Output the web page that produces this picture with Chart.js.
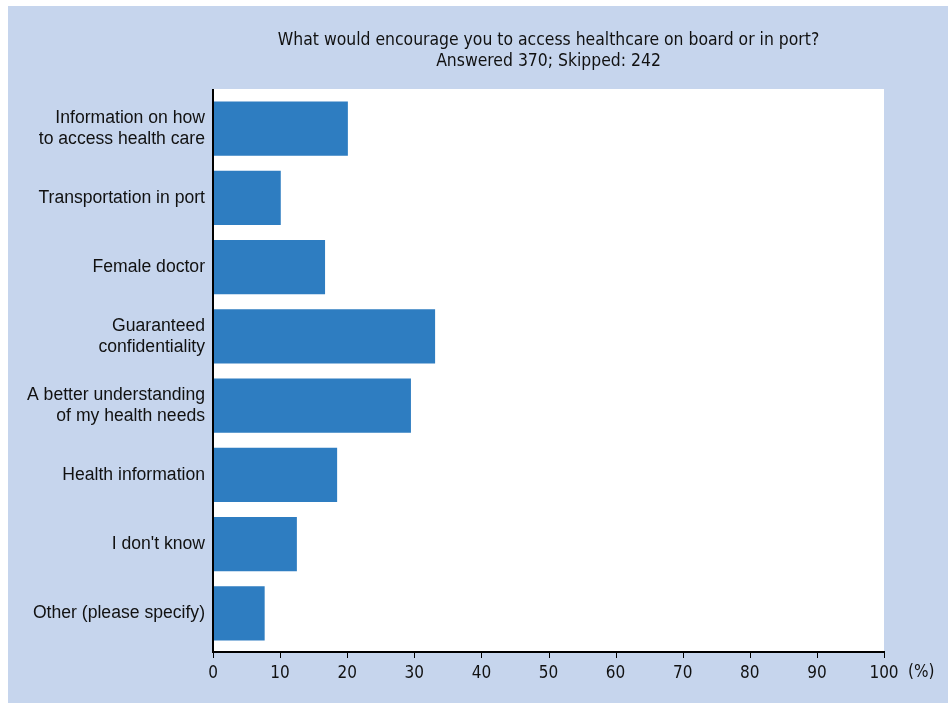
<!DOCTYPE html>
<html>
<head>
<title>Healthcare access</title>
<script src="https://cdn.jsdelivr.net/npm/chart.js@4"></script>
<style>
  body { margin: 0; background: #ffffff; }
  #wrap { position: absolute; left: 8px; top: 6px; width: 940px; height: 697px; background: #c6d5ed; }
</style>
</head>
<body>
<div id="wrap"><canvas id="myChart" width="940" height="697"></canvas></div>
<script>
// survey answers, % of respondents
const categories = [
  ["Information on how", "to access health care"],
  "Transportation in port",
  "Female doctor",
  ["Guaranteed", "confidentiality"],
  ["A better understanding", "of my health needs"],
  "Health information",
  "I don't know",
  "Other (please specify)"
];
const percentages = [20.1, 10.1, 16.7, 33.1, 29.5, 18.5, 12.5, 7.7];
const xTicks = [0, 10, 20, 30, 40, 50, 60, 70, 80, 90, 100];
const titleLines = ["What would encourage you to access healthcare on board or in port?", "Answered 370; Skipped: 242"];

const narrow = "'Liberation Sans Narrow', 'Arial Narrow', 'DejaVu Sans Condensed', sans-serif";

// the white plot box is a bit taller than the category bands
const boxTop = 5, boxBottom = 3;

const decor = {
  id: 'decor',
  beforeDraw(chart) {
    const c = chart.ctx, a = chart.chartArea;
    c.save();
    c.fillStyle = '#ffffff';
    c.fillRect(a.left, a.top - boxTop, a.right - a.left, a.bottom - a.top + boxTop + boxBottom);
    c.restore();
  },
  afterDraw(chart) {
    const c = chart.ctx, a = chart.chartArea, xs = chart.scales.x;
    const yb = a.bottom + boxBottom;
    c.save();
    // axes
    c.strokeStyle = '#000000';
    c.lineWidth = 2;
    c.beginPath();
    c.moveTo(a.left, a.top - boxTop);
    c.lineTo(a.left, yb + 1);
    c.lineTo(a.right, yb + 1);
    c.stroke();
    c.lineWidth = 1;
    c.beginPath();
    xTicks.forEach(v => {
      const px = Math.round(xs.getPixelForValue(v)) + 0.5;
      c.moveTo(px, yb);
      c.lineTo(px, yb + 7);
    });
    c.stroke();
    // title
    c.fillStyle = '#111111';
    c.font = "17.4px " + narrow;
    c.textAlign = 'center';
    c.textBaseline = 'middle';
    const cx = (a.left + a.right) / 2;
    c.fillText(titleLines[0], cx, 34);
    c.fillText(titleLines[1], cx, 55);
    c.font = "17px " + narrow;
    c.textAlign = 'left';
    c.fillText("(%)", a.right + 24, 667);
    c.restore();
  }
};

new Chart("myChart", {
  type: "bar",
  data: {
    labels: categories,
    datasets: [{
      data: percentages,
      backgroundColor: "#2e7dc1",
      categoryPercentage: 1.0,
      barPercentage: 0.78
    }]
  },
  options: {
    indexAxis: 'y',
    responsive: false,
    animation: false,
    layout: { padding: { top: 88, right: 64, left: 0, bottom: 0 } },
    plugins: { legend: { display: false }, tooltip: { enabled: false } },
    scales: {
      x: {
        min: 0, max: 100,
        afterBuildTicks(scale) { scale.ticks = xTicks.map(v => ({ value: v })); },
        ticks: { color: '#111111', font: { size: 17, family: narrow }, padding: 7 },
        grid: { display: false },
        border: { display: false },
        afterFit(scale) { scale.height = 55; }
      },
      y: {
        ticks: { color: '#111111', font: { size: 17.6, family: "'Liberation Sans', Arial, sans-serif", lineHeight: 1.2 }, padding: 8 },
        grid: { display: false, drawTicks: false },
        border: { display: false },
        afterFit(scale) { scale.width = 205; }
      }
    }
  },
  plugins: [decor]
});
</script>
</body>
</html>
